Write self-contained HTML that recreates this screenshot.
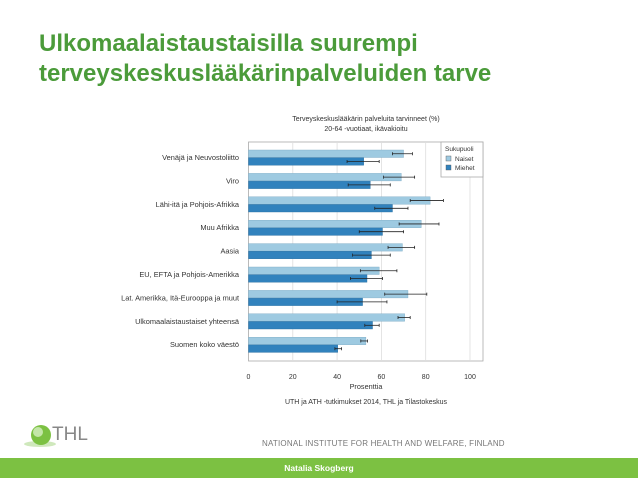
<!DOCTYPE html>
<html><head><meta charset="utf-8"><style>
body{margin:0;width:638px;height:479px;background:#fff;position:relative;overflow:hidden;font-family:"Liberation Sans",sans-serif}
#title{position:absolute;left:39px;top:29px;color:#4b9b3a;font-weight:bold;font-size:24px;line-height:30px;letter-spacing:0px}
#footerbar{position:absolute;left:0;top:458px;width:638px;height:20px;background:#7cc142;color:#fff;font-size:8.5px;font-weight:bold;text-align:center;line-height:20px}
#nif{position:absolute;left:262px;top:439px;font-size:8px;color:#777;letter-spacing:0.2px;white-space:nowrap}
#thl{position:absolute;left:52px;top:424px;font-size:19px;color:#888;}
</style></head><body>
<div id="title">Ulkomaalaistaustaisilla suurempi<br>terveyskeskuslääkärinpalveluiden tarve</div>
<svg width="638" height="479" style="position:absolute;left:0;top:0" id="chart"></svg>
<svg width="40" height="30" style="position:absolute;left:20px;top:422px">
<ellipse cx="20" cy="22" rx="16" ry="3" fill="#cfe8bc"/><circle cx="21" cy="13" r="10" fill="#7cc142"/><circle cx="18" cy="10" r="5" fill="#c4e6a8"/></svg>
<div id="thl">THL</div>
<div id="nif">NATIONAL INSTITUTE FOR HEALTH AND WELFARE, FINLAND</div>
<div id="footerbar">Natalia Skogberg</div>
<script>
const categories=["Venäjä ja Neuvostoliitto","Viro","Lähi-itä ja Pohjois-Afrikka","Muu Afrikka","Aasia","EU, EFTA ja Pohjois-Amerikka","Lat. Amerikka, Itä-Eurooppa ja muut","Ulkomaalaistaustaiset yhteensä","Suomen koko väestö"];
const naiset=[70,69,82,78,69.5,59,72,70.5,53];
const naisetLo=[65,61,73,68,63,50.5,61.5,67.5,50.7];
const naisetHi=[74,75,88,86,75,67,80.5,73,53.7];
const miehet=[52,55,65,60.5,55.5,53.5,51.5,56,40.3];
const miehetLo=[44.5,45,57,50,47,46,40,52.5,39];
const miehetHi=[59,64,72,70,64,60.5,62.5,59,42];
const ticks=[0,20,40,60,80,100];
const svg=document.getElementById('chart');
const NS='http://www.w3.org/2000/svg';
const L=248.5,R=483,T=142,B=361;
const x=v=>L+v*2.215;
const gy=i=>150+i*23.4;
function mk(t,a,p){const e=document.createElementNS(NS,t);for(const k in a)e.setAttribute(k,a[k]);(p||svg).appendChild(e);return e;}
let t=mk('text',{x:366,y:121,'font-size':7,'text-anchor':'middle',fill:'#333'});t.textContent='Terveyskeskuslääkärin palveluita tarvinneet (%)';

t=mk('text',{x:366,y:131,'font-size':7,'text-anchor':'middle',fill:'#333'});t.textContent='20-64 -vuotiaat, ikävakioitu';

let f=mk('rect',{x:L,y:T,width:R-L,height:B-T,fill:'none',stroke:'#aaa','stroke-width':0.8});

ticks.forEach(v=>{
 if(v>0){const g=mk('line',{x1:x(v),x2:x(v),y1:T,y2:B,stroke:'#ddd','stroke-width':0.8});
 }
 const tl=mk('text',{x:x(v),y:379,'font-size':7,'text-anchor':'middle',fill:'#333'});tl.textContent=v;
 
});
t=mk('text',{x:366,y:389,'font-size':7.3,'text-anchor':'middle',fill:'#333'});t.textContent='Prosenttia';

t=mk('text',{x:366,y:404,'font-size':7,'text-anchor':'middle',fill:'#333'});t.textContent='UTH ja ATH -tutkimukset 2014, THL ja Tilastokeskus';

function err(lo,hi,yc){
 const e=mk('g',{});
 
 mk('line',{x1:x(lo),x2:x(hi),y1:yc,y2:yc,stroke:'#222','stroke-width':0.8},e);
 mk('line',{x1:x(lo),x2:x(lo),y1:yc-1.5,y2:yc+1.5,stroke:'#222','stroke-width':0.8},e);
 mk('line',{x1:x(hi),x2:x(hi),y1:yc-1.5,y2:yc+1.5,stroke:'#222','stroke-width':0.8},e);
}
categories.forEach((c,i)=>{
 const y0=gy(i);
 const b1=mk('rect',{x:L,y:y0,width:x(naiset[i])-L,height:7.5,fill:'#9ecae1',stroke:'#7aa9c4','stroke-width':0.4});
 
 const b2=mk('rect',{x:L,y:y0+7.7,width:x(miehet[i])-L,height:7.5,fill:'#3182bd',stroke:'#2a6fa0','stroke-width':0.4});
 
 err(naisetLo[i],naisetHi[i],y0+3.75);
 err(miehetLo[i],miehetHi[i],y0+11.5);
 const l=mk('text',{x:239,y:y0+10,'font-size':7.4,'text-anchor':'end',fill:'#333'});l.textContent=c;
 
});
const lg=mk('g',{});

mk('rect',{x:441,y:142,width:42,height:35,fill:'#fff',stroke:'#aaa','stroke-width':0.8},lg);
t=mk('text',{x:445,y:151,'font-size':6.5,fill:'#333'},lg);t.textContent='Sukupuoli';
mk('rect',{x:446,y:156,width:5,height:5,fill:'#9ecae1',stroke:'#555','stroke-width':0.4},lg);
t=mk('text',{x:455,y:161,'font-size':6.5,fill:'#333'},lg);t.textContent='Naiset';
mk('rect',{x:446,y:165,width:5,height:5,fill:'#3182bd',stroke:'#555','stroke-width':0.4},lg);
t=mk('text',{x:455,y:170,'font-size':6.5,fill:'#333'},lg);t.textContent='Miehet';
</script>
</body></html>
